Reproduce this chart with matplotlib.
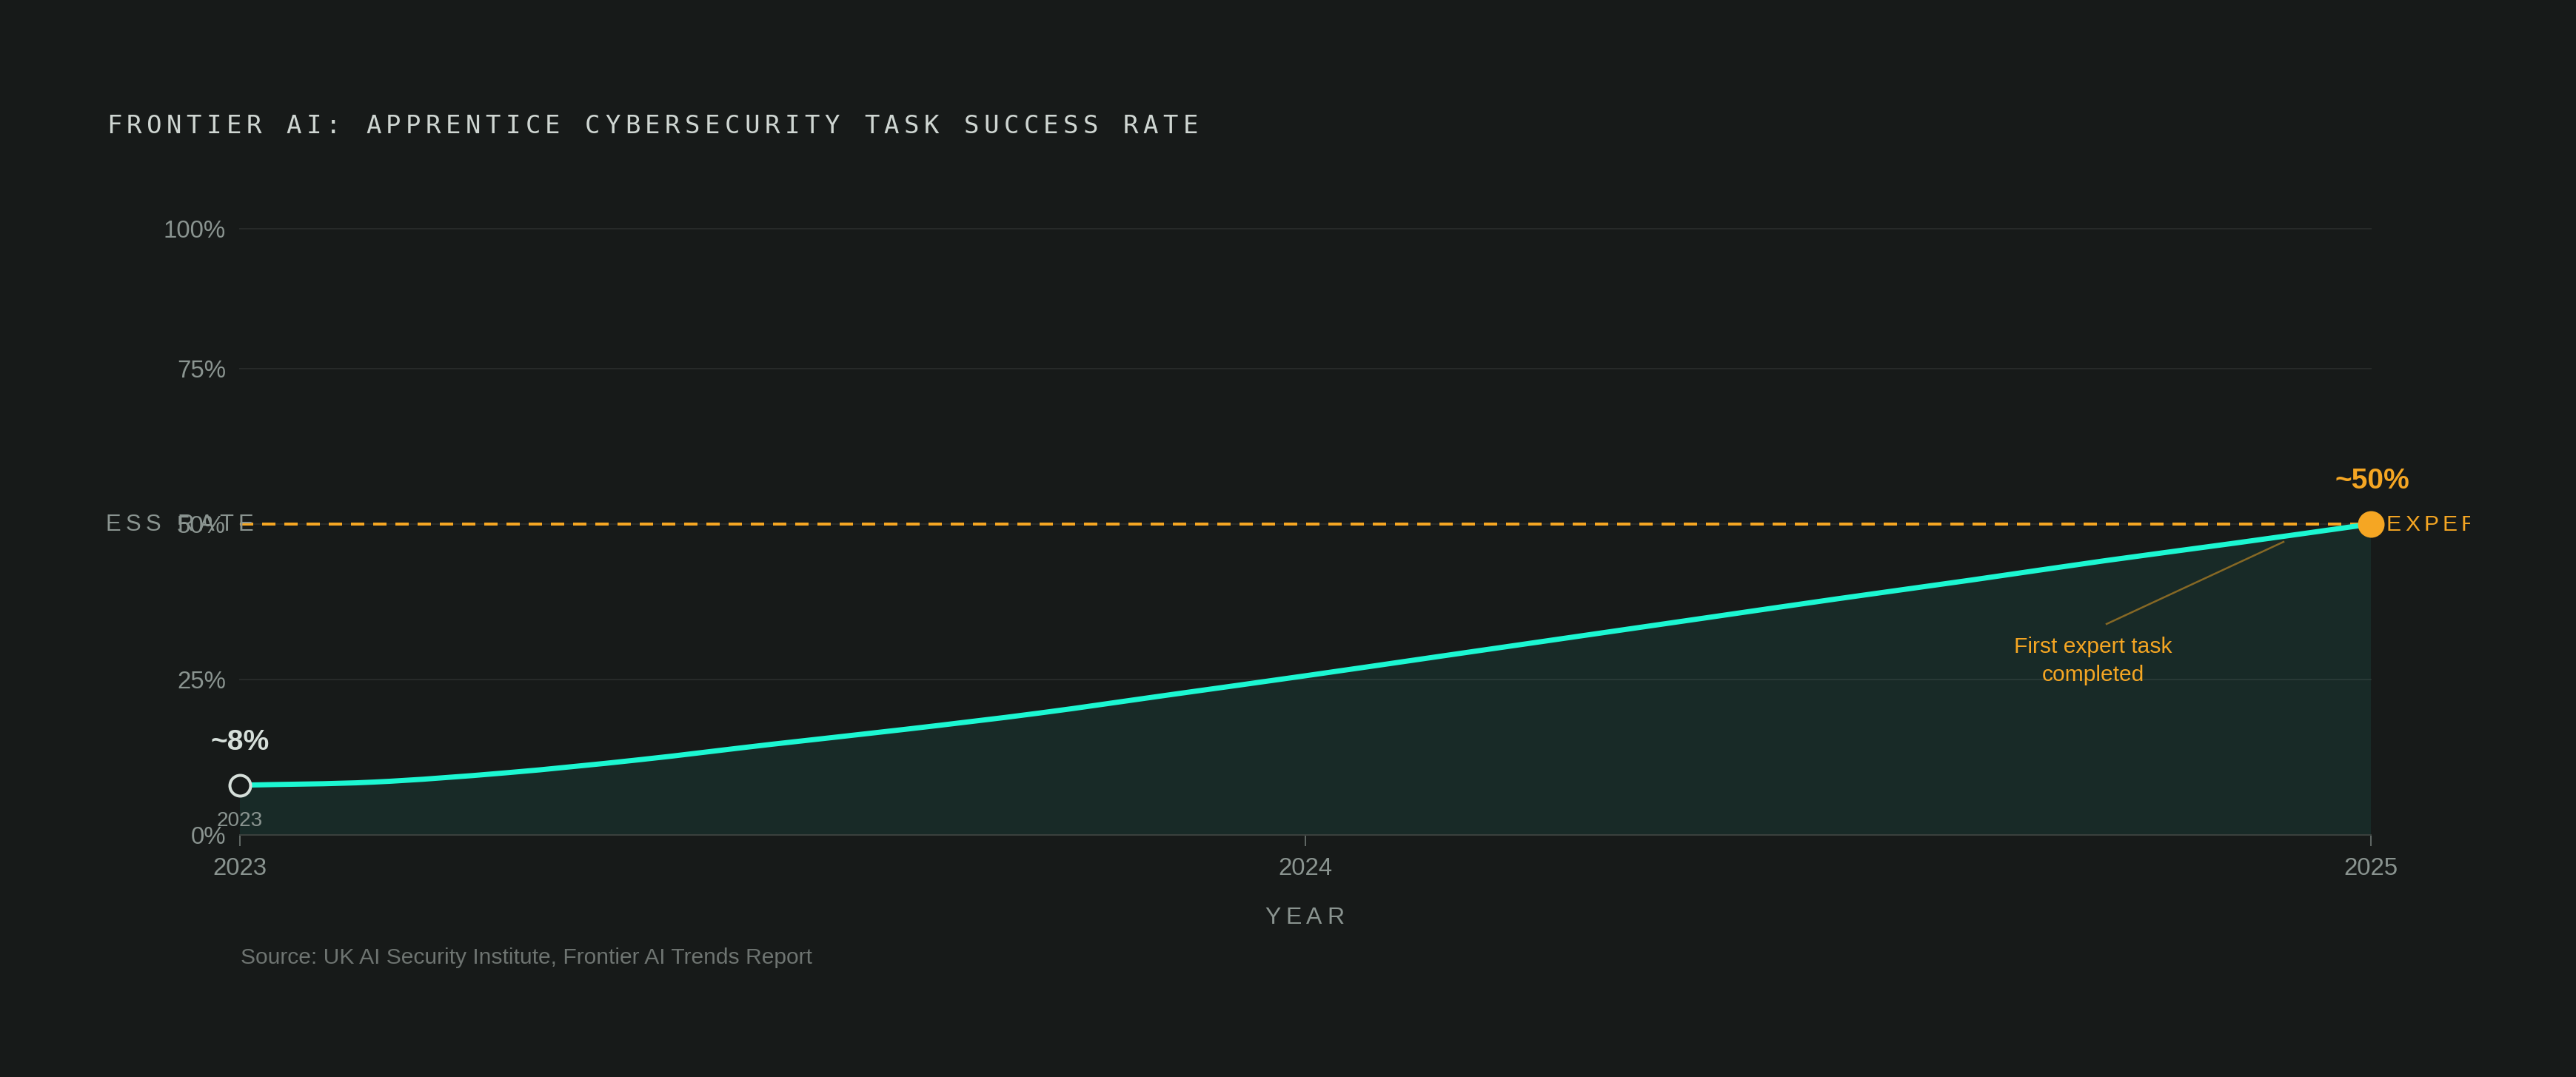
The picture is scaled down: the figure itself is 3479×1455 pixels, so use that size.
"""Frontier AI apprentice cyber task success rate, dark theme line chart. Out: out.png"""
import matplotlib
matplotlib.use("Agg")
import matplotlib.pyplot as plt
import matplotlib.transforms as mtransforms
from matplotlib.lines import Line2D
from matplotlib.path import Path
from matplotlib.patches import PathPatch
from matplotlib.font_manager import FontProperties, findfont
from matplotlib.ft2font import FT2Font

W, H, DPI = 3480, 1455, 100
BG = "#171a19"
CYAN = "#1cf7d2"
ORANGE = "#f5a623"
FILL = "#182a27"
GRAY = "#8a9490"
LIGHT = "#d6dfda"
SANS = "Liberation Sans"

# data
years = [2023.0, 2023.125, 2023.25, 2023.375, 2023.5, 2023.625, 2023.75, 2023.875,
         2024.0, 2024.125, 2024.25, 2024.375, 2024.5, 2024.625, 2024.75, 2024.875, 2025.0]
success = [8.0, 8.5, 10.0, 12.1, 14.6, 17.0, 19.6, 22.6,
           25.6, 28.7, 31.8, 34.9, 38.0, 41.0, 44.1, 47.0, 50.0]
start_label, end_label = "~8%", "~50%"
expert_level = 50
x_ticks = [2023, 2024, 2025]
y_ticks = [0, 25, 50, 75, 97.5]          # top gridline sits on the plot's top edge
y_tick_labels = ["0%", "25%", "50%", "75%", "100%"]
title = "FRONTIER AI: APPRENTICE CYBERSECURITY TASK SUCCESS RATE"
source = "Source: UK AI Security Institute, Frontier AI Trends Report"


def pt(px):
    return px * 72 / DPI


def smooth_path(xs, ys):
    # cubic hermite through the points, written as bezier segments (like a d3 curve)
    n = len(xs)
    s = [(ys[i + 1] - ys[i]) / (xs[i + 1] - xs[i]) for i in range(n - 1)]
    m = [s[0]] + [(s[i - 1] + s[i]) / 2 for i in range(1, n - 1)] + [s[-1]]
    verts, codes = [(xs[0], ys[0])], [Path.MOVETO]
    for i in range(n - 1):
        h = xs[i + 1] - xs[i]
        verts += [(xs[i] + h / 3, ys[i] + m[i] * h / 3),
                  (xs[i + 1] - h / 3, ys[i + 1] - m[i + 1] * h / 3),
                  (xs[i + 1], ys[i + 1])]
        codes += [Path.CURVE4] * 3
    return verts, codes


plt.rcParams["font.family"] = [SANS, "DejaVu Sans"]
fig = plt.figure(figsize=(W / DPI, H / DPI), dpi=DPI, facecolor=BG)
PX = mtransforms.Affine2D().scale(1 / W, -1 / H).translate(0, 1) + fig.transFigure


def spaced(x, y, s, px_size, track, color, family, ha="left", clip=None, weight="normal"):
    size = pt(px_size)
    prop = FontProperties(family=family, weight=weight, size=size)
    ft = FT2Font(findfont(prop))
    ft.set_size(size, DPI)
    adv = [ft.load_char(ord(c)).linearHoriAdvance / 65536 for c in s]
    total = sum(adv) + track * (len(s) - 1)
    if ha == "right":
        x -= total
    elif ha == "center":
        x -= total / 2
    for c, a in zip(s, adv):
        if c != " ":
            t = fig.text(x, y, c, transform=PX, fontproperties=prop, color=color,
                         ha="left", va="baseline")
            if clip is not None:
                bb = mtransforms.Bbox.from_extents(clip[0] / W, 0, clip[1] / W, 1)
                t.set_clip_box(mtransforms.TransformedBbox(bb, fig.transFigure))
                t.set_clip_on(True)
        x += a + track


ax = fig.add_axes([324 / W, 1 - 1128 / H, (3202 - 324) / W, (1128 - 309) / H])
ax.set_facecolor(BG)
ax.set_xlim(2023, 2025)
ax.set_ylim(0, 97.5)
for sp in ax.spines.values():
    sp.set_visible(False)

cv, cc = smooth_path(years, success)
fill_verts = [(years[0], 0)] + cv + [(years[-1], 0), (years[0], 0)]
fill_codes = [Path.MOVETO, Path.LINETO] + cc[1:] + [Path.LINETO, Path.CLOSEPOLY]
ax.add_patch(PathPatch(Path(fill_verts, fill_codes), facecolor=FILL, lw=0, zorder=1))

for yv in y_ticks[1:]:
    ax.axhline(yv, color=(1, 1, 1, 0.07), lw=pt(2), zorder=2, clip_on=False)
ax.axhline(0, color="#3a403d", lw=pt(2), zorder=2, clip_on=False)
ax.plot([years[0], years[-1]], [expert_level, expert_level], color=ORANGE, lw=pt(4),
        dashes=(4.5, 3), dash_capstyle="butt", zorder=3)
ax.add_patch(PathPatch(Path(cv, cc), fill=False, edgecolor=CYAN, lw=pt(7),
                       capstyle="round", joinstyle="round", zorder=4))
ax.plot([years[0]], [success[0]], "o", ms=pt(28), mfc=BG, mec=LIGHT, mew=pt(4),
        clip_on=False, zorder=5)
ax.plot([years[-1]], [success[-1]], "o", ms=pt(34), mfc=ORANGE, mec=ORANGE, mew=pt(2),
        clip_on=False, zorder=5)

ax.set_xticks(x_ticks)
ax.set_xticklabels([str(v) for v in x_ticks])
ax.set_yticks(y_ticks)
ax.set_yticklabels(y_tick_labels)
ax.tick_params(axis="x", length=pt(15), width=pt(2), color="#5f6663", pad=pt(15),
               labelsize=pt(33), labelcolor=GRAY)
ax.tick_params(axis="y", length=0, pad=pt(19), labelsize=pt(33), labelcolor=GRAY)

# title + axis labels (letter-spaced)
spaced(144, 180, title, 34, 6.45, "#cfd6d2", "DejaVu Sans Mono")
spaced(1762, 1248, "YEAR", 32, 6.4, GRAY, SANS, ha="center")
spaced(342, 717, "SUCCESS RATE", 31, 6.6, GRAY, SANS, ha="right", clip=(143, W))
spaced(3223, 717, "EXPERT LEVEL", 30, 5.0, ORANGE, SANS, clip=(0, 3336))

# point labels
fig.text(324, 1013, start_label, transform=PX, ha="center", va="baseline",
         fontsize=pt(39), fontweight="bold", color=LIGHT)
fig.text(324, 1116, str(x_ticks[0]), transform=PX, ha="center", va="baseline",
         fontsize=pt(28), color=GRAY)
fig.text(3204, 660, end_label, transform=PX, ha="center", va="baseline",
         fontsize=pt(39), fontweight="bold", color=ORANGE)

# annotation
fig.add_artist(Line2D([2845, 3084], [843, 732], transform=PX, color=ORANGE, alpha=0.5,
                      lw=pt(2.5)))
fig.text(2827, 882, "First expert task", transform=PX, ha="center", va="baseline",
         fontsize=pt(30), color=ORANGE)
fig.text(2827, 920, "completed", transform=PX, ha="center", va="baseline",
         fontsize=pt(30), color=ORANGE)

fig.text(325, 1302, source, transform=PX, ha="left", va="baseline",
         fontsize=pt(30), color="#6e7471")

fig.savefig("out.png", dpi=DPI, facecolor=BG)
